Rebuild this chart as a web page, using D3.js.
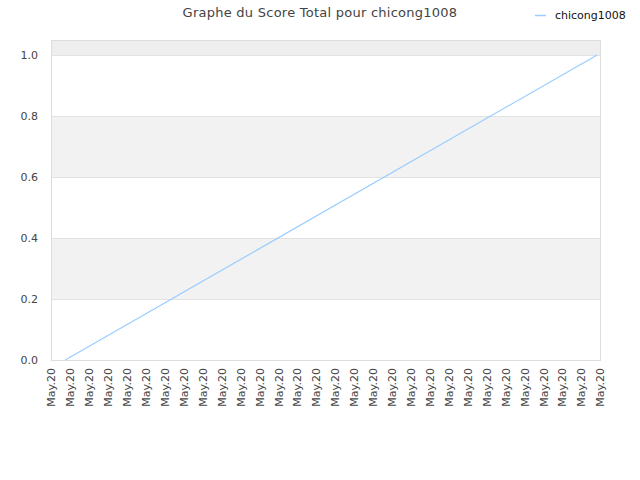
<!DOCTYPE html>
<html>
<head>
<meta charset="utf-8">
<script src="https://cdn.jsdelivr.net/npm/d3@7"></script>
<style>
  body { margin: 0; background: #fff; }
  text { font-family: "DejaVu Sans", sans-serif; }
</style>
</head>
<body>
<div id="chart"></div>
<script>
// -----------------------------
// DATA
// -----------------------------
const title = "Graphe du Score Total pour chicong1008";
const seriesName = "chicong1008";
const xTickLabels = Array(30).fill("May.20");
const yTicks = [0.0, 0.2, 0.4, 0.6, 0.8, 1.0];
const seriesX = [0.75, 28.85];
const seriesY = [0.0, 1.0];

// -----------------------------
// SVG SETUP
// -----------------------------
const width = 640, height = 480;
const margin = { top: 40, right: 40, bottom: 120, left: 51 };
const plotWidth = width - margin.left - margin.right;
const plotHeight = height - margin.top - margin.bottom;

const svg = d3.select("#chart").append("svg")
    .attr("width", width)
    .attr("height", height);

const g = svg.append("g")
    .attr("transform", `translate(${margin.left},${margin.top})`);

const x = d3.scaleLinear().domain([0, xTickLabels.length - 1]).range([0, plotWidth]);
const y = d3.scaleLinear().domain([0, 1.049]).range([plotHeight, 0]);

// -----------------------------
// BANDS + GRID
// -----------------------------
const bands = [[0.2, 0.4, "#f2f2f2"], [0.6, 0.8, "#f2f2f2"], [1.0, 1.049, "#eeeeee"]];
g.selectAll(".band")
    .data(bands)
    .enter()
    .append("rect")
    .attr("x", 0)
    .attr("width", plotWidth)
    .attr("y", d => y(d[1]))
    .attr("height", d => y(d[0]) - y(d[1]))
    .attr("fill", d => d[2]);

g.selectAll(".grid")
    .data(yTicks)
    .enter()
    .append("line")
    .attr("x1", 0)
    .attr("x2", plotWidth)
    .attr("y1", d => Math.round(y(d)) + 0.5)
    .attr("y2", d => Math.round(y(d)) + 0.5)
    .attr("stroke", "#e2e2e2");

g.append("rect")
    .attr("x", 0.5)
    .attr("y", 0.5)
    .attr("width", plotWidth)
    .attr("height", plotHeight)
    .attr("fill", "none")
    .attr("stroke", "#dddddd");

// -----------------------------
// AXES
// -----------------------------
const yAxis = g.append("g")
    .call(d3.axisLeft(y).tickValues(yTicks).tickFormat(d3.format(".1f")).tickSize(0).tickPadding(13));
yAxis.select(".domain").remove();
yAxis.selectAll("text")
    .attr("fill", "#444")
    .style("font-size", "11px")
    .style("font-family", "DejaVu Sans, sans-serif");

const xAxis = g.append("g")
    .attr("transform", `translate(0,${plotHeight})`)
    .call(d3.axisBottom(x).tickValues(d3.range(xTickLabels.length)).tickFormat(i => xTickLabels[i]).tickSize(0));
xAxis.select(".domain").remove();
xAxis.selectAll("text")
    .attr("fill", "#444")
    .style("font-size", "11px")
    .style("font-family", "DejaVu Sans, sans-serif")
    .attr("transform", "rotate(-90)")
    .style("text-anchor", "end")
    .attr("x", -8)
    .attr("y", 0)
    .attr("dy", "0.35em");

// -----------------------------
// LINE
// -----------------------------
const line = d3.line()
    .x(d => x(d[0]))
    .y(d => y(d[1]));

g.append("path")
    .datum(seriesX.map((v, i) => [v, seriesY[i]]))
    .attr("fill", "none")
    .attr("stroke", "#99ccff")
    .attr("stroke-width", 1.2)
    .attr("d", line);

// -----------------------------
// TITLE + LEGEND
// -----------------------------
svg.append("text")
    .attr("x", width / 2)
    .attr("y", 17)
    .attr("text-anchor", "middle")
    .attr("fill", "#444")
    .style("font-size", "13px")
    .style("letter-spacing", "0.25px")
    .text(title);

svg.append("line")
    .attr("x1", 535)
    .attr("x2", 546)
    .attr("y1", 15.5)
    .attr("y2", 15.5)
    .attr("stroke", "#99ccff")
    .attr("stroke-width", 1.5);

svg.append("text")
    .attr("x", 555)
    .attr("y", 19)
    .attr("fill", "#111")
    .style("font-size", "11px")
    .text(seriesName);
</script>
</body>
</html>
